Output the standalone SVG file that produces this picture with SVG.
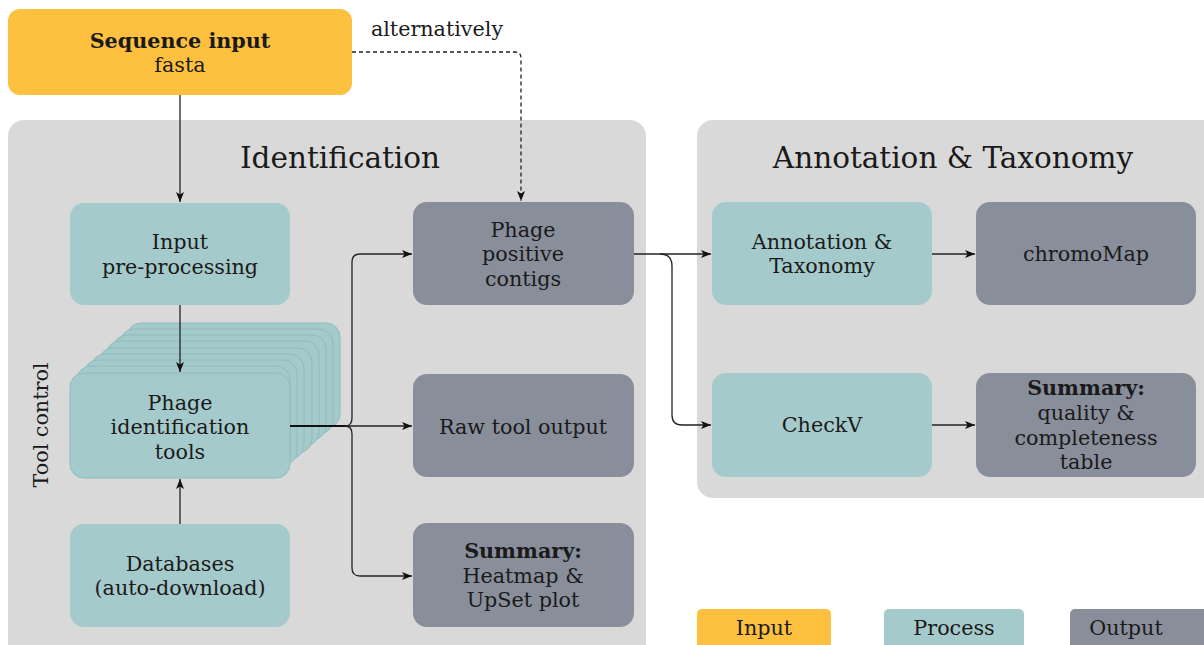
<svg xmlns="http://www.w3.org/2000/svg" width="1204" height="645" viewBox="0 0 1204 645">
<defs>
<marker id="arr" viewBox="0 0 10 10" refX="10" refY="5" markerWidth="10" markerHeight="10" markerUnits="userSpaceOnUse" orient="auto">
<path d="M0,1 L10,5 L0,9 L2.5,5 z" fill="#111"/>
</marker>
<style>
text{font-family:"DejaVu Serif","Liberation Serif",serif;fill:#1a1a1a;text-anchor:middle}
.n{font-size:20.7px}
.b{font-weight:bold}
.t{font-size:29.5px}
.panel{fill:#d9d9d9}
.in{fill:#fdc13f}
.pr{fill:#a5cacb}
.ou{fill:#898e9b}
.stk{fill:#a5cacb;stroke:#8dbcbc;stroke-width:1}
.c{fill:none;stroke:#222;stroke-width:1.3}
</style>
</defs>
<rect width="1204" height="645" fill="#ffffff"/>
<g id="panel-identification">
<rect class="panel" x="8" y="120" width="638" height="540" rx="16"/>
<text class="t" x="340" y="168">Identification</text>
<text class="n" transform="translate(48,425) rotate(-90)">Tool control</text>
</g>
<g id="panel-annotation">
<rect class="panel" x="697" y="120" width="530" height="378" rx="16"/>
<text class="t" x="953" y="168">Annotation &amp; Taxonomy</text>
</g>
<g id="node-sequence-input">
<rect class="in" x="8" y="9" width="344" height="86" rx="12"/>
<text class="n b" x="180" y="48">Sequence input</text>
<text class="n" x="180" y="72">fasta</text>
</g>
<g id="node-preprocessing">
<rect class="pr" x="70" y="203" width="220" height="102" rx="14"/>
<text class="n" x="180" y="249">Input</text>
<text class="n" x="180" y="274">pre-processing</text>
</g>
<g id="node-identification-tools">
<rect class="stk" x="127" y="323" width="213" height="105" rx="14"/>
<rect class="stk" x="120" y="329" width="213" height="105" rx="14"/>
<rect class="stk" x="113" y="335" width="213" height="105" rx="14"/>
<rect class="stk" x="106" y="341" width="213" height="105" rx="14"/>
<rect class="stk" x="99" y="348" width="213" height="105" rx="14"/>
<rect class="stk" x="91" y="354" width="213" height="105" rx="14"/>
<rect class="stk" x="84" y="360" width="213" height="105" rx="14"/>
<rect class="stk" x="77" y="366" width="213" height="105" rx="14"/>
<rect class="stk" x="70" y="373" width="220" height="105" rx="14"/>
<text class="n" x="180" y="410">Phage</text>
<text class="n" x="180" y="434">identification</text>
<text class="n" x="180" y="459">tools</text>
</g>
<g id="node-databases">
<rect class="pr" x="70" y="524" width="220" height="103" rx="14"/>
<text class="n" x="180" y="571">Databases</text>
<text class="n" x="180" y="595">(auto-download)</text>
</g>
<g id="node-positive-contigs">
<rect class="ou" x="413" y="202" width="221" height="103" rx="14"/>
<text class="n" x="523" y="237">Phage</text>
<text class="n" x="523" y="261">positive</text>
<text class="n" x="523" y="286">contigs</text>
</g>
<g id="node-raw-output">
<rect class="ou" x="413" y="374" width="221" height="103" rx="14"/>
<text class="n" x="523" y="434">Raw tool output</text>
</g>
<g id="node-summary-heatmap">
<rect class="ou" x="413" y="523" width="221" height="104" rx="14"/>
<text class="n b" x="523" y="558">Summary:</text>
<text class="n" x="523" y="583">Heatmap &amp;</text>
<text class="n" x="523" y="607">UpSet plot</text>
</g>
<g id="node-annotation">
<rect class="pr" x="712" y="202" width="220" height="103" rx="14"/>
<text class="n" x="822" y="249">Annotation &amp;</text>
<text class="n" x="822" y="273">Taxonomy</text>
</g>
<g id="node-chromomap">
<rect class="ou" x="976" y="202" width="220" height="103" rx="14"/>
<text class="n" x="1086" y="261">chromoMap</text>
</g>
<g id="node-checkv">
<rect class="pr" x="712" y="373" width="220" height="104" rx="14"/>
<text class="n" x="822" y="432">CheckV</text>
</g>
<g id="node-summary-quality">
<rect class="ou" x="976" y="373" width="220" height="104" rx="14"/>
<text class="n b" x="1086" y="395">Summary:</text>
<text class="n" x="1086" y="420">quality &amp;</text>
<text class="n" x="1086" y="445">completeness</text>
<text class="n" x="1086" y="469">table</text>
</g>
<g id="legend">
<rect class="in" x="697" y="609" width="134" height="45" rx="5"/>
<text class="n" x="764" y="635">Input</text>
<rect class="pr" x="884" y="609" width="140" height="45" rx="5"/>
<text class="n" x="954" y="635">Process</text>
<rect class="ou" x="1070" y="609" width="140" height="45" rx="5"/>
<text class="n" x="1126" y="635">Output</text>
</g>
<g id="connectors">
<path class="c" d="M180,95 V202" marker-end="url(#arr)"/>
<path class="c" d="M352,52 H515 Q521,52 521,58 V201" stroke-dasharray="4,3" marker-end="url(#arr)"/>
<text class="n" x="437" y="36">alternatively</text>
<path class="c" d="M180,305 V372" marker-end="url(#arr)"/>
<path class="c" d="M180,524 V479" marker-end="url(#arr)"/>
<path d="M290,426 H345" stroke="#111" stroke-width="2" fill="none"/>
<path class="c" d="M345,426 Q352,426 352,418 V262 Q352,254 360,254 H412" marker-end="url(#arr)"/>
<path class="c" d="M345,426 H412" marker-end="url(#arr)"/>
<path class="c" d="M345,426 Q352,426 352,434 V568 Q352,576 360,576 H412" marker-end="url(#arr)"/>
<path class="c" d="M634,254 H711" marker-end="url(#arr)"/>
<path class="c" d="M660,254 Q672,254 672,266 V415 Q672,425 682,425 H711" marker-end="url(#arr)"/>
<path class="c" d="M932,254 H975" marker-end="url(#arr)"/>
<path class="c" d="M932,425 H975" marker-end="url(#arr)"/>
</g>
</svg>
